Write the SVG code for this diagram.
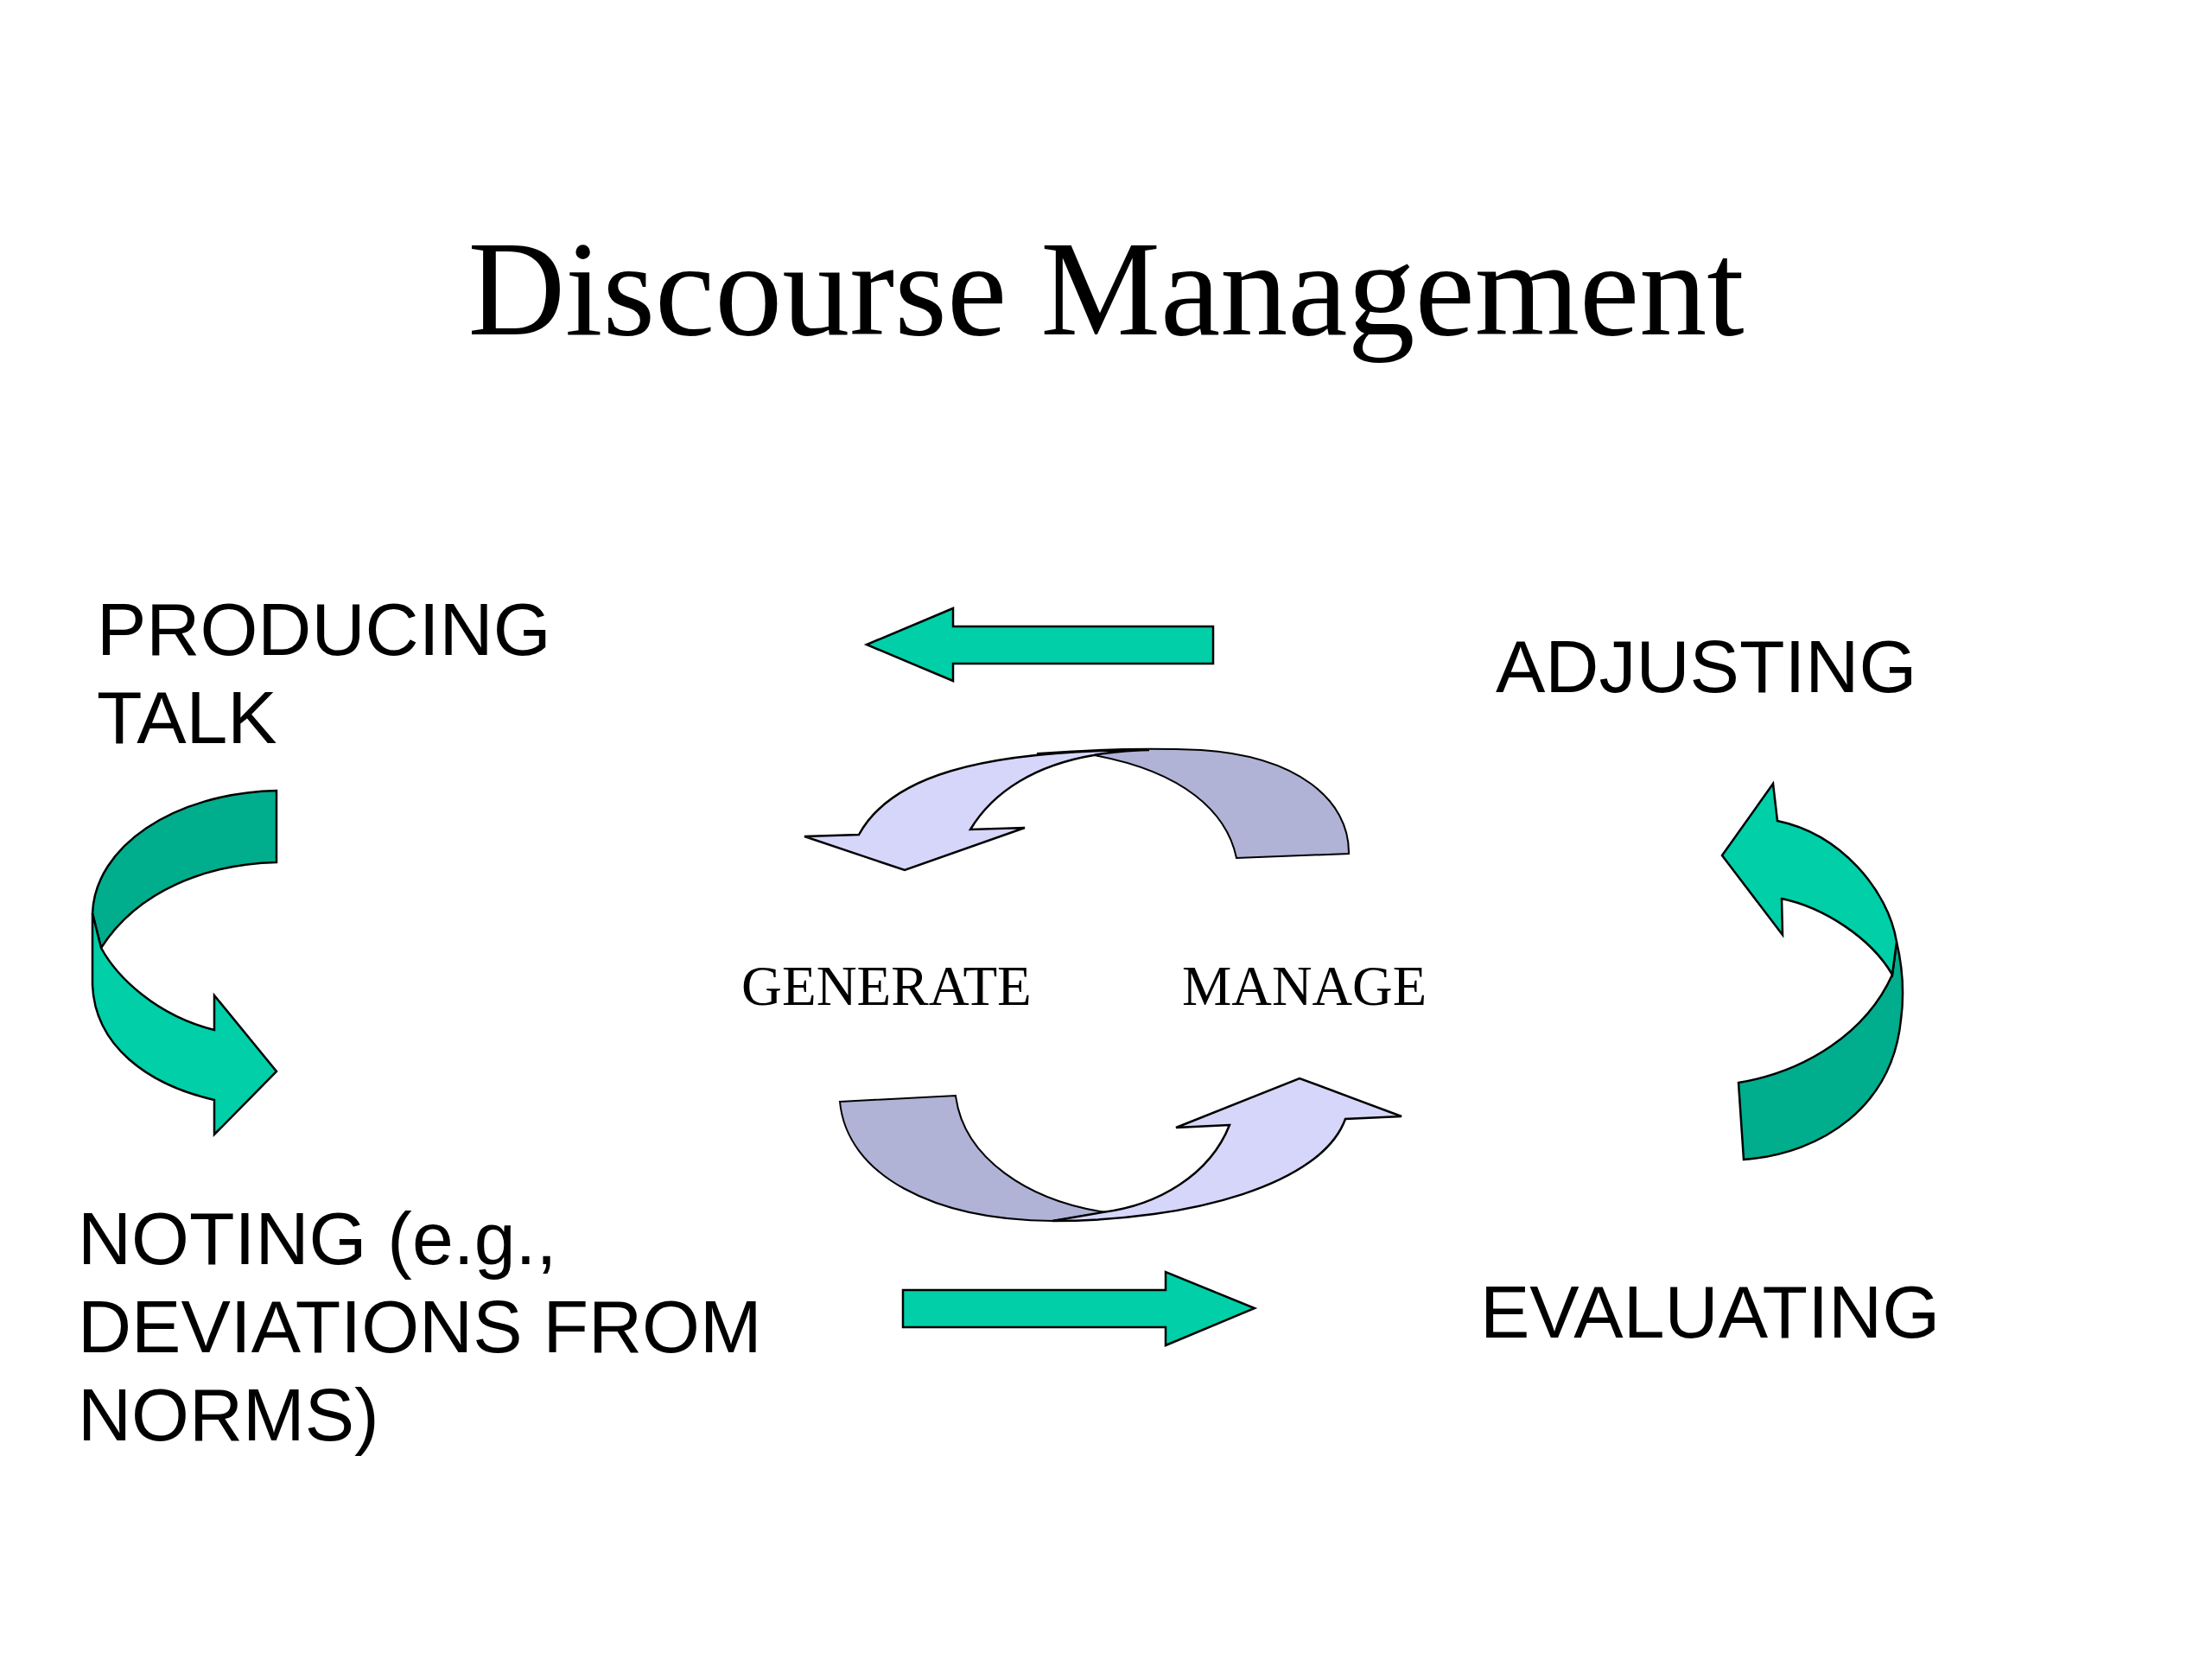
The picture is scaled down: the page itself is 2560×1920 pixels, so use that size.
<svg xmlns="http://www.w3.org/2000/svg" width="2560" height="1920" viewBox="0 0 2560 1920">
<style>
.sans{font-family:"Liberation Sans",Arial,sans-serif;font-size:86px;fill:#000}
.serif{font-family:"Liberation Serif","Times New Roman",serif;fill:#000}
.g1{fill:#00CFA8;stroke:#000;stroke-width:2.5;stroke-linejoin:miter}
.g2{fill:#00AD8C;stroke:#000;stroke-width:2.5}
.l1{fill:#D6D6FA;stroke:#000;stroke-width:2.5}
.l2{fill:#B0B2D6;stroke:#000;stroke-width:2}
</style>
<rect width="2560" height="1920" fill="#fff"/>
<g id="title"><text class="serif" x="1280" y="387" font-size="156" text-anchor="middle">Discourse Management</text></g>
<g id="producing"><text class="sans" x="112" y="758">PRODUCING</text><text class="sans" x="112" y="860">TALK</text></g>
<g id="adjusting"><text class="sans" x="1731" y="801">ADJUSTING</text></g>
<g id="noting"><text class="sans" x="90" y="1463">NOTING (e.g.,</text><text class="sans" x="90" y="1565">DEVIATIONS FROM</text><text class="sans" x="90" y="1667">NORMS)</text></g>
<g id="evaluating"><text class="sans" x="1713" y="1548">EVALUATING</text></g>
<g id="generate"><text class="serif" x="858" y="1163" font-size="65">GENERATE</text></g>
<g id="manage"><text class="serif" x="1368" y="1163" font-size="64.5">MANAGE</text></g>
<g id="connectors">
<path class="g1" d="M1404,725 L1103,725 L1103,704 L1003,746 L1103,788 L1103,768 L1404,768 Z"/>
<path class="g1" d="M1045,1493 L1349,1493 L1349,1472 L1452,1514 L1349,1557 L1349,1536 L1045,1536 Z"/>
<path class="g2" d="M320,915 L320,998 C240,1000 160,1030 117,1097 L107,1057 C110,980 200,918 320,915 Z"/>
<path class="g1" d="M107,1057 L117,1097 C135,1130 180,1175 248,1192 L248,1152 L320,1240 L248,1313 L248,1273 C170,1255 110,1210 107,1140 Z"/>
<path class="g2" d="M2012,1253 C2090,1240 2160,1195 2190,1128 L2195,1090 C2202,1120 2204,1150 2200,1180 C2190,1280 2110,1335 2018,1342 Z"/>
<path class="g1" d="M2190,1128 L2195,1090 C2185,1030 2130,965 2057,950 L2052,907 L1993,990 L2063,1082 L2062,1040 C2110,1050 2165,1085 2190,1128 Z"/>
<path class="l2" d="M1200,872 C1280,866 1340,866 1390,868 C1500,875 1562,925 1561,988 L1431,993 C1420,940 1370,893 1266,874 Z"/>
<path class="l1" d="M931,968 L994,966 C1030,900 1130,868 1330,868 C1300,869 1280,871 1266,874 C1200,885 1150,915 1123,960 L1186,958 L1047,1007 Z"/>
<path class="l2" d="M972,1275 L1106,1268 C1115,1340 1190,1390 1280,1403 L1218,1413 C1080,1412 980,1360 972,1275 Z"/>
<path class="l1" d="M1423,1302 L1361,1305 L1504,1248 L1622,1292 L1557,1295 C1530,1370 1380,1413 1218,1413 L1276,1403 C1340,1395 1400,1360 1423,1302 Z"/>
</g>
</svg>
